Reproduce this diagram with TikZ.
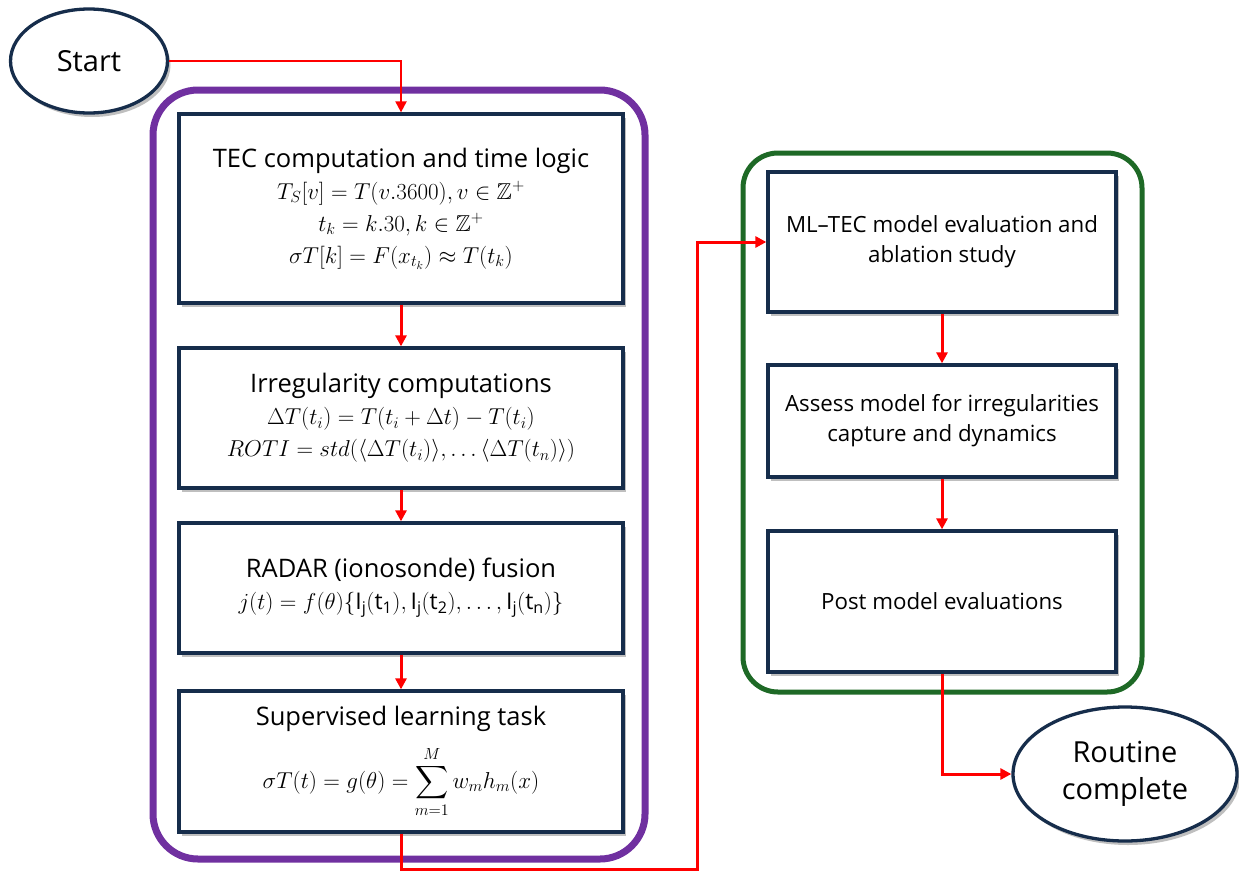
\RequirePackage{fix-cm}
\documentclass[tikz,border=0pt]{standalone}
\usepackage{amsmath,amssymb}
\usepackage{fontspec}
\setmainfont{Open Sans}
\usetikzlibrary{arrows.meta,shapes.geometric,shadows}
\definecolor{navy}{RGB}{22,45,75}
\definecolor{purp}{RGB}{112,48,160}
\definecolor{grn}{RGB}{30,105,38}
\newcommand{\mthline}[1]{{\fontsize{23}{32}\selectfont$#1$}}
\tikzset{
  procbox/.style={draw=navy, line width=3.3pt, fill=white, inner sep=0pt, align=center,
    drop shadow={shadow xshift=3pt, shadow yshift=-4pt, opacity=0.25, fill=black}},
  termnode/.style={ellipse, draw=navy, line width=3.3pt, fill=white, inner sep=0pt, align=center,
    drop shadow={shadow xshift=3pt, shadow yshift=-4pt, opacity=0.25, fill=black}},
  flow/.style={draw=red, line width=3pt, -{Triangle[length=11pt,width=11pt]}},
  boxfont/.style={font=\fontsize{25.5}{32}\selectfont},
  rfont/.style={font=\fontsize{22.3}{30}\selectfont},
}
\begin{document}
\begin{tikzpicture}[x=1pt,y=-1pt]
\useasboundingbox (0,0) rectangle (1239,873);
% containers
\draw[purp, line width=7pt, rounded corners=45pt] (153,90) rectangle (645,859);
\draw[grn, line width=5pt, rounded corners=35pt] (743,153) rectangle (1142,692);
% terminals
\node[termnode, minimum width=157pt, minimum height=104pt, font=\fontsize{29}{34}\selectfont] (start) at (89,61) {Start};
\node[termnode, minimum width=224pt, minimum height=134pt, font=\fontsize{29}{37}\selectfont] (routine) at (1125,774) {Routine\\complete};
% left column
\node[procbox, boxfont, minimum width=444pt, minimum height=189pt] (b1) at (401,208.5)
  {TEC computation and time logic\\
   \mthline{T_S[v]=T(v.3600), v\in\mathbb{Z}^{+}}\\
   \mthline{t_k=k.30, k\in\mathbb{Z}^{+}}\\
   \mthline{\sigma T[k]=F(x_{t_k})\approx T(t_k)}};
\node[procbox, boxfont, minimum width=444pt, minimum height=140pt] (b2) at (401,418)
  {Irregularity computations\\
   \mthline{\Delta T(t_i)=T(t_i+\Delta t)-T(t_i)}\\
   \mthline{ROTI=std(\langle\Delta T(t_i)\rangle,\ldots\langle\Delta T(t_n)\rangle)}};
\node[procbox, boxfont, minimum width=444pt, minimum height=130pt] (b3) at (401,588)
  {RADAR (ionosonde) fusion\\
   \mthline{j(t)=f(\theta)\{\mathrm{I_j(t_1)},\mathrm{I_j(t_2)},\ldots,\mathrm{I_j(t_n)}\}}};
\node[procbox, boxfont, minimum width=444pt, minimum height=141pt] (b4) at (401,761.5)
  {Supervised learning task\\[14pt]
   \mthline{\displaystyle\sigma T(t)=g(\theta)=\sum_{m=1}^{M}w_m h_m(x)}};
% right column
\node[procbox, rfont, minimum width=348pt, minimum height=140pt] (b5) at (942,242)
  {ML\textendash TEC model evaluation and\\ablation study};
\node[procbox, rfont, minimum width=348pt, minimum height=112pt] (b6) at (942,421)
  {Assess model for irregularities\\capture and dynamics};
\node[procbox, rfont, minimum width=348pt, minimum height=141pt] (b7) at (942,601.5)
  {Post model evaluations};
% connectors
\coordinate (c1) at (401,869);
\coordinate (c2) at (697,869);
\coordinate (c3) at (697,242);
\draw[flow, line width=2.2pt] (start.east) -| (b1.north);
\draw[flow] (b1.south) -- (b2.north);
\draw[flow] (b2.south) -- (b3.north);
\draw[flow] (b3.south) -- (b4.north);
\draw[flow] (b4.south) -- (c1) -- (c2) -- (c3) -- (b5.west);
\draw[flow] (b5.south) -- (b6.north);
\draw[flow] (b6.south) -- (b7.north);
\draw[flow] (b7.south) |- (routine.west);
\end{tikzpicture}
\end{document}
